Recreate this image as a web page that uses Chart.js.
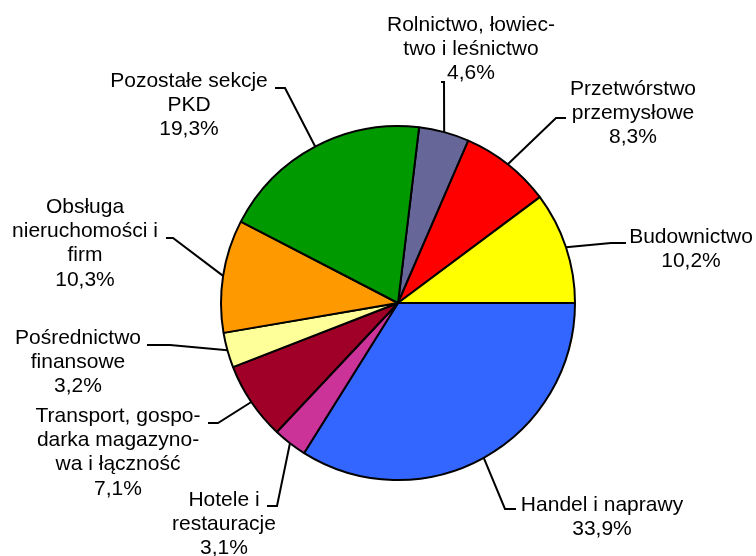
<!DOCTYPE html>
<html>
<head>
<meta charset="utf-8">
<script src="https://cdn.jsdelivr.net/npm/chart.js@4"></script>
<style>
  html, body { margin: 0; padding: 0; background: #fff; }
  #wrap { width: 756px; height: 556px; }
</style>
</head>
<body>
<div id="wrap"><canvas id="pieChart" width="756" height="556"></canvas></div>
<script>
// dane - udzial sekcji PKD (%)
var categories = [
    ['Rolnictwo, łowiec-', 'two i leśnictwo'],
    ['Przetwórstwo', 'przemysłowe'],
    ['Budownictwo'],
    ['Handel i naprawy'],
    ['Hotele i', 'restauracje'],
    ['Transport, gospo-', 'darka magazyno-', 'wa i łączność'],
    ['Pośrednictwo', 'finansowe'],
    ['Obsługa', 'nieruchomości i', 'firm'],
    ['Pozostałe sekcje', 'PKD']
];
var shares = [4.6, 8.3, 10.2, 33.9, 3.1, 7.1, 3.2, 10.3, 19.3];
var colors = ['#666699', '#FF0000', '#FFFF00', '#3366FF', '#CC3399', '#A00028', '#FFFF99', '#FF9900', '#009900'];

// polozenie etykiet (srodek tekstu, pierwsza linia) i krotki odcinek linii odniesienia
var labelPos = [
    {x: 471, y: 25,  sx1: 441, sx2: 444, sy: 82},
    {x: 633, y: 89,  sx1: 566, sx2: 556, sy: 118},
    {x: 691, y: 237, sx1: 626, sx2: 611, sy: 243},
    {x: 602, y: 505, sx1: 516, sx2: 505, sy: 509},
    {x: 224, y: 500, sx1: 267, sx2: 277, sy: 506},
    {x: 118, y: 416, sx1: 208, sx2: 218, sy: 423},
    {x: 78,  y: 338, sx1: 147, sx2: 170, sy: 345},
    {x: 85,  y: 207, sx1: 166, sx2: 173, sy: 238},
    {x: 189, y: 81,  sx1: 275, sx2: 285, sy: 88}
];

function fmt(v) {
    return v.toFixed(1).replace('.', ',') + '%';
}

// Etykiety z liniami odniesienia
var labelPlugin = {
    id: 'pieLabels',
    afterDraw: function (chart) {
        var ctx = chart.ctx;
        var arcs = chart.getDatasetMeta(0).data;
        ctx.save();
        ctx.strokeStyle = '#000';
        ctx.lineWidth = 2;
        ctx.fillStyle = '#000';
        ctx.font = '21px "Liberation Sans", Arial, sans-serif';
        ctx.textAlign = 'center';
        ctx.textBaseline = 'middle';
        arcs.forEach(function (arc, i) {
            var p = arc.getProps(['x', 'y', 'startAngle', 'endAngle', 'outerRadius'], true);
            var mid = (p.startAngle + p.endAngle) / 2;
            var ex = p.x + Math.cos(mid) * p.outerRadius;
            var ey = p.y + Math.sin(mid) * p.outerRadius;
            var lp = labelPos[i];
            ctx.beginPath();
            ctx.moveTo(lp.sx1, lp.sy);
            ctx.lineTo(lp.sx2, lp.sy);
            ctx.lineTo(ex, ey);
            ctx.stroke();
            var lines = categories[i].concat([fmt(shares[i])]);
            lines.forEach(function (t, j) {
                ctx.fillText(t, lp.x, lp.y + j * 24.3);
            });
        });
        ctx.restore();
    }
};

var ctxPie = document.getElementById('pieChart').getContext('2d');
var pieChart = new Chart(ctxPie, {
    type: 'pie',
    data: {
        labels: categories.map(function (c) { return c.join(' '); }),
        datasets: [{
            data: shares,
            backgroundColor: colors,
            borderColor: '#000',
            borderWidth: 2
        }]
    },
    options: {
        responsive: false,
        animation: false,
        rotation: 90 - (shares[0] + shares[1] + shares[2]) * 3.6,
        layout: {
            padding: {left: 220, right: 180, top: 125, bottom: 75}
        },
        plugins: {
            legend: { display: false },
            tooltip: { enabled: false }
        }
    },
    plugins: [labelPlugin]
});
</script>
</body>
</html>
